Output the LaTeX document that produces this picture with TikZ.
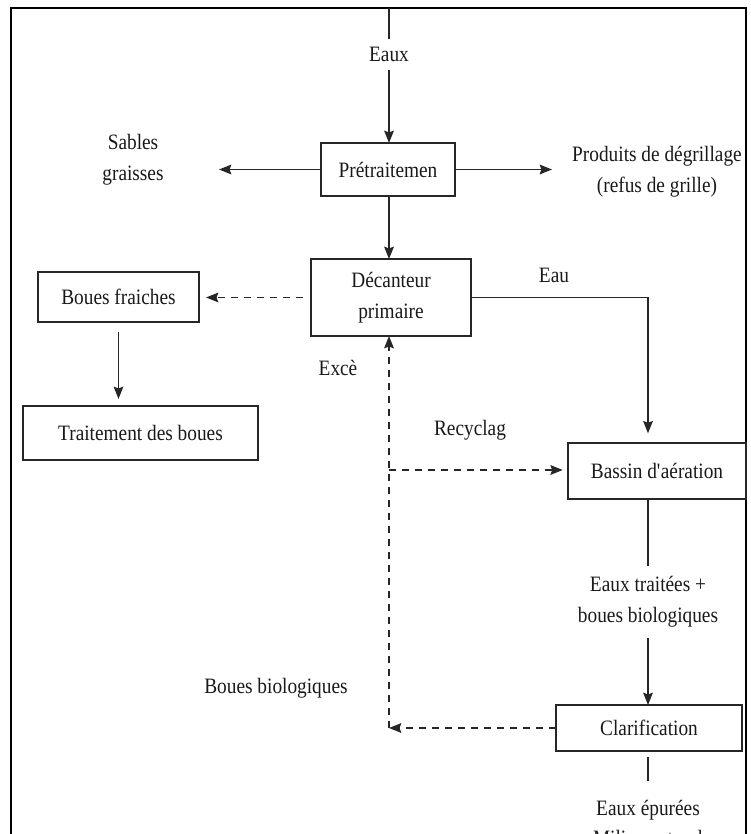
\documentclass[tikz,border=0pt]{standalone}
\usepackage{fontspec}
\setmainfont[FakeStretch=0.88]{Liberation Serif}
\usetikzlibrary{arrows.meta}
\begin{document}
\begin{tikzpicture}[x=0.02cm,y=-0.02cm,
  every node/.style={font=\fontsize{12.5}{17.5}\selectfont, text=black!90},
  box/.style={draw=black!85, line width=1.2pt, inner sep=0pt, outer sep=0pt, align=center},
  lbl/.style={inner sep=0pt, outer sep=0pt, align=center},
  conn/.style={draw=black!85, line width=0.95pt},
  arr/.style={conn, -{Stealth[length=7pt,width=5.5pt,inset=1pt]}},
  darr/.style={arr, dash pattern=on 4pt off 3.4pt},
  frame/.style={draw=black, line width=1.6pt}]
\useasboundingbox (0,0) rectangle (750,834);
\clip (0,0) rectangle (750,834);
\draw[frame] (11,900) -- (11,8) -- (746,8) -- (746,900);

% boxes
\node[box, minimum width=2.68cm, minimum height=1.06cm] (pre) at (388,169.5) {Prétraitemen};
\node[box, minimum width=3.2cm, minimum height=1.54cm] (dec) at (391,297.5) {Décanteur\\primaire};
\node[box, minimum width=3.22cm, minimum height=1.0cm] (bf) at (118.5,297) {Boues fraiches};
\node[box, minimum width=4.7cm, minimum height=1.08cm] (tb) at (140.5,433) {Traitement des boues};
\node[box, minimum width=3.56cm, minimum height=1.12cm] (bas) at (657,471) {Bassin d\textquotesingle aération};
\node[box, minimum width=3.72cm, minimum height=0.92cm] (cla) at (649,728) {Clarification};

% labels
\node[lbl, minimum height=0.62cm] (eaux) at (389,54.5) {Eaux};
\node[lbl] (sab) at (133,160) {Sables\\graisses};
\node[lbl] (prod) at (657,172) {Produits de dégrillage\\(refus de grille)};
\node[lbl] (eau) at (554,275) {Eau};
\node[lbl] (exc) at (338,368) {Excè};
\node[lbl] (rec) at (470,430) {Recyclag};
\node[lbl, minimum height=1.44cm] (etb) at (648,602) {Eaux traitées +\\boues biologiques};
\node[lbl] (bb) at (276,688) {Boues biologiques};
\node[lbl] (epu) at (648,823) {Eaux épurées\\Milieu naturel};

% coordinates
\coordinate (top) at (389,8);
\coordinate (sabA) at (219,170);
\coordinate (prodA) at (552,170);
\coordinate (bx) at (648,0);
\coordinate (dj) at (389,728);
\coordinate (rj) at (389,470);
\coordinate (cb) at (648,781);

% connectors
\draw[conn] (top) -- (top |- eaux.north);
\draw[arr] (eaux.south -| top) -- (pre.north -| top);
\draw[arr] (pre.west) -- (pre.west -| sabA);
\draw[arr] (pre.east) -- (pre.east -| prodA);
\draw[arr] (pre.south -| top) -- (dec.north -| top);
\draw[darr, shorten <=4.5pt, shorten >=4pt] (dec.west) -- (dec.west -| bf.east);
\draw[arr, shorten <=5.5pt, shorten >=4pt] (bf.south) -- (bf.south |- tb.north);
\draw[arr, shorten >=5.5pt] (dec.east) -| (bas.north -| bx);
\draw[darr] (dj) -- (dec.south -| dj);
\draw[darr, shorten >=3pt] (rj) -- (rj -| bas.west);
\draw[conn] (bas.south -| bx) -- (etb.north);
\draw[arr] (etb.south) -- (etb.south |- cla.north);
\draw[darr] (cla.west) -- (dj);
\draw[conn, shorten <=3.4pt] (cla.south -| bx) -- (cb);
\end{tikzpicture}
\end{document}
